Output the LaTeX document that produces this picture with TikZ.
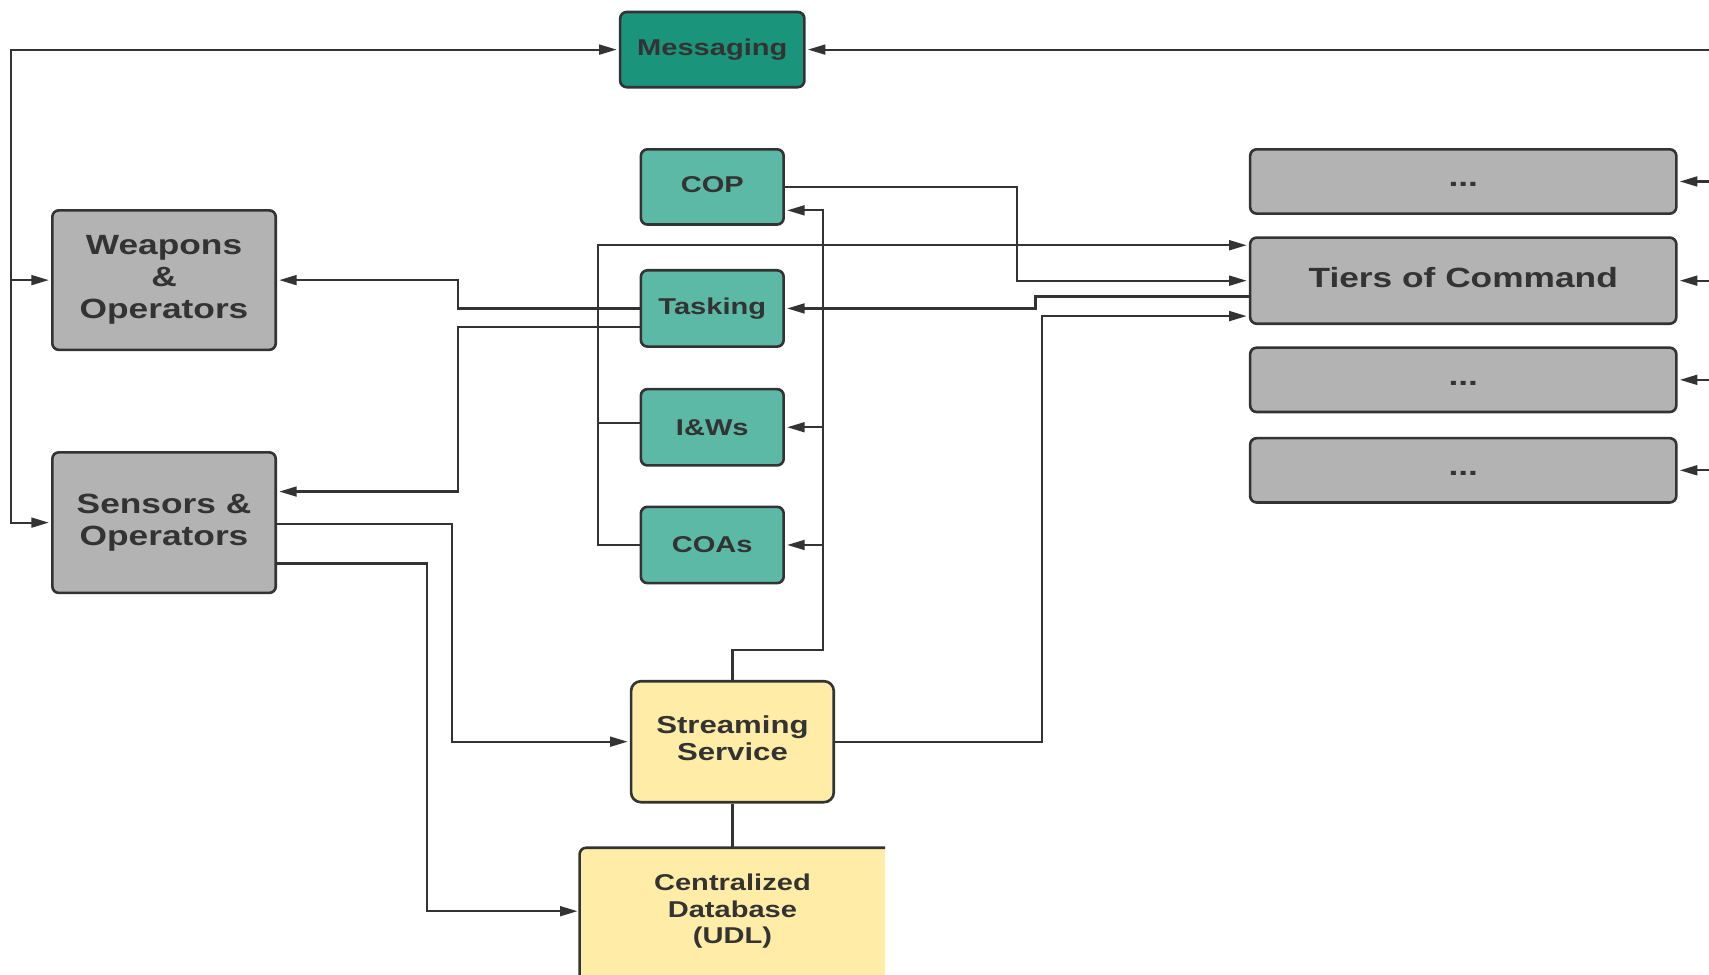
\documentclass[tikz,border=0pt]{standalone}
\usepackage{fontspec}
\newfontfamily\boxfont{Liberation Sans}[FakeStretch=1.27]
\usetikzlibrary{arrows.meta,backgrounds}
\definecolor{ink}{HTML}{333333}
\definecolor{boxgray}{HTML}{B3B3B3}
\definecolor{tealL}{HTML}{5BB9A6}
\definecolor{tealD}{HTML}{1A957B}
\definecolor{cream}{HTML}{FFECA6}
% lift a line of text without changing its box
\newcommand{\liftby}[2]{\raisebox{#1}[\height][\depth]{#2}}

\begin{document}
\begin{tikzpicture}[x=1pt,y=-1pt,
  box/.style={draw=ink, line width=2.4pt, rounded corners=6pt, inner sep=0pt,
              align=center, text=ink},
  fsmall/.style={font=\boxfont\bfseries\fontsize{21}{24.5}\selectfont},
  fmid/.style={font=\boxfont\bfseries\fontsize{22.5}{25}\selectfont},
  fbig/.style={font=\boxfont\bfseries\fontsize{25.5}{29.5}\selectfont},
  graybox/.style={box, fill=boxgray, fbig},
  tealbox/.style={box, fill=tealL, fsmall, minimum width=131pt, minimum height=70pt},
  msgbox/.style={box, fill=tealD, fsmall, minimum width=169pt, minimum height=69pt},
  tierbox/.style={graybox, minimum width=391pt, minimum height=59pt},
  conn/.style={draw=ink, line width=2pt},
  arr/.style={conn, shorten >=2pt, -{Triangle[length=16pt,width=9pt]}},
  arrboth/.style={conn, shorten >=2pt, shorten <=2pt,
                  {Triangle[length=16pt,width=9pt]}-{Triangle[length=16pt,width=9pt]}}
]
\begin{scope}[on background layer]
  \fill[white] (0,0) rectangle (1568,894);
\end{scope}
\useasboundingbox (0,0) rectangle (1568,894);

% ---- nodes ----
\node[msgbox] (msg) at (653.5,45.5) {Messaging};
\node[tealbox, minimum height=69pt] (cop) at (653.5,171.5) {\liftby{2pt}{COP}};
\node[tealbox] (task) at (653.5,283) {Tasking};
\node[tealbox] (iw) at (653.5,392) {I\&Ws};
\node[tealbox] (coa) at (653.5,500) {COAs};

\node[graybox, minimum width=205pt, minimum height=128pt] (weap) at (150.5,257) {Weapons\\\&\\Operators};
\node[graybox, minimum width=205pt, minimum height=129pt] (sens) at (150.5,479.5) {Sensors \&\\Operators};

\node[box, fill=cream, fmid, minimum width=186pt, minimum height=111pt, rounded corners=9pt] (ss) at (672,680.5)
  {\liftby{3pt}{Streaming}\\\liftby{3pt}{Service}};

\node[tierbox] (d1) at (1342.5,166.5) {\liftby{-3pt}{...}};
\node[graybox, minimum width=391pt, minimum height=79pt] (tiers) at (1342.5,257.5) {\liftby{3pt}{Tiers of Command}};
\node[tierbox] (d2) at (1342.5,348.5) {\liftby{-3pt}{...}};
\node[tierbox] (d3) at (1342.5,431.5) {\liftby{-3pt}{...}};

% database block, running past the lower and right edges
\node[text=ink, fsmall, align=center, inner sep=0pt,
      minimum width=280pt, minimum height=116pt] (db) at (672,836) {Centralized\\Database\\(UDL)};
\begin{scope}[on background layer]
  \clip ([xshift=-3pt,yshift=3pt]db.north west) rectangle (db.south east);
  \fill[cream, rounded corners=6pt] (db.north west) rectangle ([xshift=20pt,yshift=-20pt]db.south east);
  \draw[ink, line width=2.4pt, rounded corners=6pt]
    ([yshift=-20pt]db.south west) -- (db.north west) -- ([xshift=20pt]db.north east);
\end{scope}

% ---- routing coordinates ----
\coordinate (xl) at (10,0);
\coordinate (xr) at (1568,0);
\coordinate (xcop) at (933,0);
\coordinate (xbus) at (755,0);
\coordinate (ybus) at (0,596);
\coordinate (xjog) at (950,0);
\coordinate (xfeed) at (549,0);
\coordinate (xtask) at (420,0);
\coordinate (xss) at (415,0);
\coordinate (xdb) at (392,0);
\coordinate (xup) at (956,0);

\coordinate (copin) at ([yshift=-21.5pt]cop.east);
\coordinate (tiersout) at ([yshift=-14.5pt]tiers.west);
\coordinate (tiersinA) at ([yshift=32.5pt]tiers.west);
\coordinate (tiersinB) at ([yshift=-32.5pt]tiers.west);
\coordinate (iwout) at ([yshift=4pt]iw.west);
\coordinate (taskoutB) at ([yshift=-17pt]task.west);
\coordinate (sensinB) at ([yshift=28.5pt]sens.east);
\coordinate (sensout) at ([yshift=-1.5pt]sens.east);
\coordinate (sensoutB) at ([yshift=-37.5pt]sens.east);

% ---- connectors ----
% messaging trunk on the left
\draw[arrboth] (msg.west) -- (msg.west -| xl) |- (sens.west);
\draw[arr] (weap.west -| xl) -- (weap.west);

% feeds arriving from the right
\draw[arr] (msg.east -| xr) -- (msg.east);
\draw[arr] (d1.east -| xr) -- (d1.east);
\draw[arr] (tiers.east -| xr) -- (tiers.east);
\draw[arr] (d2.east -| xr) -- (d2.east);
\draw[arr] (d3.east -| xr) -- (d3.east);

% COP to tiers
\draw[arr] (cop.east) -- (cop.east -| xcop) |- (tiers.west);

% streaming service up to COP, I&Ws and COAs
\draw[arr] (ss.north) |- (ybus -| xbus) |- (copin);
\draw[arr] (iw.east -| xbus) -- (iw.east);
\draw[arr] (coa.east -| xbus) -- (coa.east);

% tiers back to tasking
\draw[arr] (tiersout) -- (tiersout -| xjog) |- (task.east);

% I&Ws and COAs up to tiers
\draw[conn] (iwout) -- (iwout -| xfeed);
\draw[arr] (coa.west) -- (coa.west -| xfeed) |- (tiersinA);

% tasking out to weapons and sensors
\draw[arr] (task.west) -- (task.west -| xtask) |- (weap.east);
\draw[arr] (taskoutB) -- (taskoutB -| xtask) |- (sensinB);

% sensors to streaming service and database
\draw[arr] (sensout) -- (sensout -| xss) |- (ss.west);
\draw[arr] (sensoutB) -- (sensoutB -| xdb) |- (db.west);

% streaming service to tiers and database
\draw[arr] (ss.east) -- (ss.east -| xup) |- (tiersinB);
\draw[conn] (ss.south) -- (db.north);
\end{tikzpicture}
\end{document}
